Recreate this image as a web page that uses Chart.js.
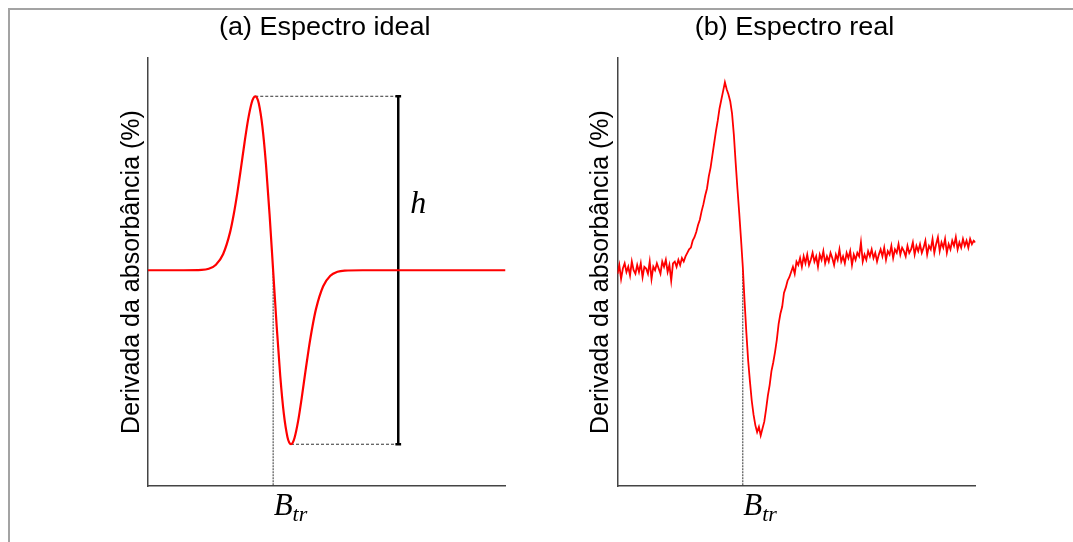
<!DOCTYPE html>
<html>
<head>
<meta charset="utf-8">
<script src="https://cdn.jsdelivr.net/npm/chart.js@4.4.1/dist/chart.umd.min.js"></script>
<style>
body { margin: 0; background: #fff; }
#wrap { position: relative; width: 1073px; height: 542px; overflow: hidden; }
#frame { position: absolute; left: 8px; top: 8px; width: 1080px; height: 550px;
         border-top: 2px solid #a3a3a3; border-left: 2px solid #a3a3a3; }
#left { position: absolute; left: 0; top: 0; }
#right { position: absolute; left: 540px; top: 0; }
</style>
</head>
<body>
<div id="wrap">
  <div id="frame"></div>
  <canvas id="left" width="540" height="542"></canvas>
  <canvas id="right" width="533" height="542"></canvas>
</div>
<script>
// eixos (unidades arbitrarias)
var xMin = 0, xMax = 100;
var yMin = -1.24, yMax = 1.22;

// pontos notaveis
var btrX = 35;
var peakX = 30, peakY = 1;
var troughX = 40, troughY = -1;
var hX = 70;
var hLabelY = 0.33;

// (a) espectro ideal
var idealX = [0, 10, 15, 17, 19, 21, 23, 24, 25, 26,
              27, 28, 29, 29.5, 30, 30.5, 31, 32, 33, 34,
              35, 36, 37, 38, 39, 39.5, 40, 40.5, 41, 42,
              43, 44, 45, 46, 47, 49, 51, 53, 55, 60,
              100];
var idealY = [0, 0, 0.002, 0.009, 0.032, 0.092, 0.222, 0.323, 0.446, 0.587,
              0.733, 0.866, 0.963, 0.990, 1, 0.990, 0.958, 0.826, 0.609, 0.323,
              0, -0.323, -0.609, -0.826, -0.958, -0.990, -1, -0.990, -0.963, -0.866,
              -0.733, -0.587, -0.446, -0.323, -0.222, -0.092, -0.032, -0.009, -0.002, 0,
              0];

// (b) espectro real, passo de 0.5 em x
var realStep = 0.5;
var realY = [
  -0.02, 0.03, -0.05, 0.01, 0.04, -0.01, 0.02, -0.03, 0.05, 0.00,   // 0 - 4.5
  -0.02, 0.03, -0.01, 0.04, -0.04, 0.02, 0.01, -0.02, 0.05, -0.05,  // 5 - 9.5
  0.02, 0.00, 0.04, 0.01, -0.02, 0.05, 0.02, 0.06, -0.01, 0.03,     // 10 - 14.5
  -0.06, 0.04, 0.05, 0.02, 0.06, 0.03, 0.07, 0.05, 0.08, 0.10,      // 15 - 19.5
  0.12, 0.13, 0.17, 0.19, 0.22, 0.26, 0.29, 0.34, 0.38, 0.43,       // 20 - 24.5
  0.47, 0.54, 0.59, 0.66, 0.73, 0.80, 0.86, 0.93, 0.98, 1.03,       // 25 - 29.5
  1.08, 1.04, 1.01, 0.97, 0.90, 0.78, 0.62, 0.47, 0.33, 0.18,       // 30 - 34.5
  0.02, -0.18, -0.36, -0.52, -0.64, -0.75, -0.83, -0.89, -0.93, -0.90,  // 35 - 39.5
  -0.95, -0.91, -0.87, -0.80, -0.72, -0.66, -0.58, -0.53, -0.47, -0.40, // 40 - 44.5
  -0.31, -0.25, -0.21, -0.13, -0.10, -0.06, -0.04, -0.01, 0.02, -0.02,  // 45 - 49.5
  0.05, 0.03, 0.07, 0.02, 0.08, 0.04, 0.09, 0.03, 0.06, 0.10,       // 50 - 54.5
  0.05, 0.08, 0.02, 0.09, 0.06, 0.11, 0.04, 0.08, 0.05, 0.10,       // 55 - 59.5
  0.07, 0.03, 0.09, 0.06, 0.12, 0.05, 0.08, 0.04, 0.10, 0.07,       // 60 - 64.5
  0.11, 0.03, 0.09, 0.06, 0.10, 0.08, 0.16, 0.05, 0.09, 0.06,       // 65 - 69.5
  0.11, 0.08, 0.12, 0.07, 0.10, 0.05, 0.09, 0.12, 0.08, 0.13,       // 70 - 74.5
  0.06, 0.11, 0.09, 0.14, 0.07, 0.12, 0.10, 0.15, 0.09, 0.13,       // 75 - 79.5
  0.11, 0.08, 0.14, 0.10, 0.12, 0.16, 0.09, 0.14, 0.11, 0.15,       // 80 - 84.5
  0.10, 0.13, 0.17, 0.09, 0.14, 0.12, 0.18, 0.10, 0.15, 0.19,       // 85 - 89.5
  0.11, 0.16, 0.13, 0.18, 0.10, 0.15, 0.12, 0.17, 0.14, 0.19,       // 90 - 94.5
  0.12, 0.16, 0.13, 0.18, 0.14, 0.17, 0.13, 0.18, 0.15, 0.17,       // 95 - 99.5
  0.16                                                              // 100
];

// monta os pares {x, y}
function toPoints(xs, ys) {
    var pts = [];
    for (var i = 0; i < ys.length; i++) {
        pts.push({ x: xs[i], y: ys[i] });
    }
    return pts;
}
var realX = realY.map(function (v, i) { return i * realStep; });

// textos: titulo, B_tr e h
var panelText = {
    id: "panelText",
    afterDraw: function (chart, args, opts) {
        var ctx = chart.ctx;
        var area = chart.chartArea;
        var xs = chart.scales.x;
        var ys = chart.scales.y;
        ctx.save();
        ctx.fillStyle = "#000";
        ctx.textBaseline = "alphabetic";

        // titulo um pouco mais largo, como no original
        ctx.save();
        ctx.textAlign = "center";
        ctx.font = '25px "Liberation Sans", Arial, sans-serif';
        ctx.translate((area.left + area.right) / 2 - 2, 35);
        ctx.scale(1.08, 1);
        ctx.fillText(opts.title, 0, 0);
        ctx.restore();

        var bx = xs.getPixelForValue(btrX) + 0.5;
        ctx.textAlign = "left";
        ctx.font = 'italic 31px "Liberation Serif", serif';
        ctx.fillText("B", bx, area.bottom + 29);
        var bw = ctx.measureText("B").width;
        ctx.font = 'italic 22px "Liberation Serif", serif';
        ctx.fillText("tr", bx + bw, area.bottom + 35);

        if (opts.showH) {
            ctx.font = 'italic 32px "Liberation Serif", serif';
            ctx.fillText("h", xs.getPixelForValue(hX) + 12, ys.getPixelForValue(hLabelY));
        }
        ctx.restore();
    }
};

function lineSet(points, color, width, dash, order) {
    return {
        data: points,
        borderColor: color,
        borderWidth: width,
        borderDash: dash,
        pointRadius: 0,
        fill: false,
        tension: 0,
        order: order
    };
}

function makeOptions(title, padLeft, padRight, showH) {
    return {
        responsive: false,
        animation: false,
        events: [],
        layout: { padding: { left: padLeft, right: padRight, top: 58, bottom: 0 } },
        plugins: {
            legend: { display: false },
            tooltip: { enabled: false },
            title: { display: false },
            panelText: { title: title, showH: showH }
        },
        scales: {
            x: {
                type: "linear",
                min: xMin,
                max: xMax,
                grid: { display: false, drawTicks: false },
                border: { display: true, color: "#444", width: 1.5 },
                ticks: { display: false },
                afterFit: function (scale) { scale.height = 56; }
            },
            y: {
                type: "linear",
                min: yMin,
                max: yMax,
                grid: { display: false, drawTicks: false },
                border: { display: true, color: "#444", width: 1.5 },
                ticks: { display: false },
                title: {
                    display: true,
                    text: "Derivada da absorbância (%)",
                    color: "#000",
                    padding: 0,
                    font: { family: '"Liberation Sans", Arial, sans-serif', size: 25 }
                },
                afterFit: function (scale) { scale.width = 31.3; }
            }
        }
    };
}

// grafico (a)
var idealLine = lineSet(toPoints(idealX, idealY), "#ff0000", 2.2, [], 0);
idealLine.cubicInterpolationMode = "monotone";
new Chart(document.getElementById("left"), {
    type: "line",
    data: {
        datasets: [
            idealLine,
            lineSet([{ x: btrX, y: 0 }, { x: btrX, y: yMin }], "#333", 1, [2, 1], 2),
            lineSet([{ x: peakX, y: peakY }, { x: hX, y: peakY }], "#333", 1, [3, 2], 2),
            lineSet([{ x: troughX, y: troughY }, { x: hX, y: troughY }], "#333", 1, [3, 2], 2),
            lineSet([{ x: hX, y: peakY }, { x: hX, y: troughY }], "#000", 2.5, [], 1),
            lineSet([{ x: hX - 0.8, y: peakY }, { x: hX + 0.8, y: peakY }], "#000", 2.5, [], 1),
            lineSet([{ x: hX - 0.8, y: troughY }, { x: hX + 0.8, y: troughY }], "#000", 2.5, [], 1)
        ]
    },
    options: makeOptions("(a) Espectro ideal", 116.7, 34.5, true),
    plugins: [panelText]
});

// grafico (b)
new Chart(document.getElementById("right"), {
    type: "line",
    data: {
        datasets: [
            lineSet(toPoints(realX, realY), "#ff0000", 1.8, [], 0),
            lineSet([{ x: btrX, y: 0 }, { x: btrX, y: yMin }], "#333", 1, [2, 1], 2)
        ]
    },
    options: makeOptions("(b) Espectro real", 46.2, 97.5, false),
    plugins: [panelText]
});
</script>
</body>
</html>
